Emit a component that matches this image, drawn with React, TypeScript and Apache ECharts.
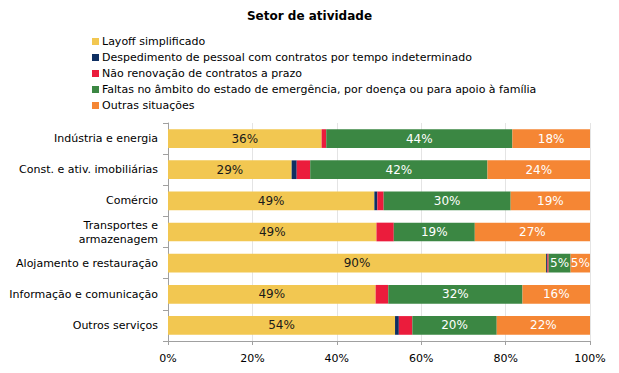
import React, { useEffect, useRef } from "react";
import * as echarts from "echarts";

const categories = [
  "Indústria e energia",
  "Const. e ativ. imobiliárias",
  "Comércio",
  "Transportes e\narmazenagem",
  "Alojamento e restauração",
  "Informação e comunicação",
  "Outros serviços",
];
const seriesNames = [
  "Layoff simplificado",
  "Despedimento de pessoal com contratos por tempo indeterminado",
  "Não renovação de contratos a prazo",
  "Faltas no âmbito do estado de emergência, por doença ou para apoio à família",
  "Outras situações",
];
const layoff = [36.4, 29.3, 48.9, 49.4, 89.6, 49.2, 53.8];
const despedimento = [0, 1.2, 0.7, 0, 0.3, 0, 0.9];
const naoRenovacao = [1.1, 3.2, 1.5, 4.1, 0.3, 3.0, 3.2];
const faltas = [44.1, 42.0, 30.1, 19.2, 5.2, 31.8, 20.0];
const outras = [18.4, 24.3, 18.8, 27.3, 4.6, 16.0, 22.1];
const xTicks = ["0%", "20%", "40%", "60%", "80%", "100%"];

const colors = ["#F2C751", "#0E2F62", "#EB1C3C", "#3B8743", "#F58634"];
const labelColors = ["#1a1a1a", null, null, "#ffffff", "#ffffff"];
const FONT = "'DejaVu Sans', sans-serif";

export default function App() {
  const ref = useRef<HTMLDivElement>(null);
  useEffect(() => {
    document.body.style.margin = "0";
    if (!ref.current) return;
    const chart = echarts.init(ref.current, undefined, { renderer: "svg" });
    const data = [layoff, despedimento, naoRenovacao, faltas, outras];
    chart.setOption({
      animation: false,
      backgroundColor: "#ffffff",
      title: {
        text: "Setor de atividade",
        left: "center",
        top: 5,
        textStyle: { fontFamily: FONT, fontSize: 12, fontWeight: "bold", color: "#000" },
      },
      legend: {
        orient: "vertical",
        left: 92,
        top: 35,
        padding: 0,
        itemWidth: 7,
        itemHeight: 7,
        itemGap: 3,
        icon: "rect",
        data: seriesNames,
        textStyle: { fontFamily: FONT, fontSize: 11, color: "#000", lineHeight: 13, padding: [0, 0, 0, -2] },
      },
      grid: { left: 168, right: 29, top: 123, bottom: 32 },
      xAxis: {
        type: "value",
        min: 0,
        max: 100,
        interval: 20,
        axisLine: { show: true, lineStyle: { color: "#a0a0a0" } },
        axisTick: { show: true, length: 4, lineStyle: { color: "#a0a0a0" } },
        splitLine: { show: true, lineStyle: { color: "#e4e4e4" } },
        axisLabel: {
          fontFamily: FONT,
          fontSize: 11,
          color: "#000",
          margin: 12,
          formatter: (v: number) => xTicks[Math.round(v / 20)],
        },
      },
      yAxis: {
        type: "category",
        inverse: true,
        data: categories,
        axisLine: { show: true, lineStyle: { color: "#a0a0a0" } },
        axisTick: { show: true, length: 5, lineStyle: { color: "#a0a0a0" } },
        axisLabel: {
          fontFamily: FONT,
          fontSize: 11,
          color: "#000",
          margin: 10,
          lineHeight: 14,
        },
      },
      series: seriesNames.map((name, i) => ({
        name,
        type: "bar",
        stack: "total",
        barWidth: "60%",
        data: data[i],
        itemStyle: { color: colors[i] },
        label: {
          show: labelColors[i] !== null,
          position: "inside",
          fontFamily: FONT,
          fontSize: 12,
          color: labelColors[i] || "#000",
          formatter: (p: any) => Math.round(p.value) + "%",
        },
      })),
    });
    return () => chart.dispose();
  }, []);
  return <div ref={ref} style={{ width: 619, height: 373 }} />;
}
